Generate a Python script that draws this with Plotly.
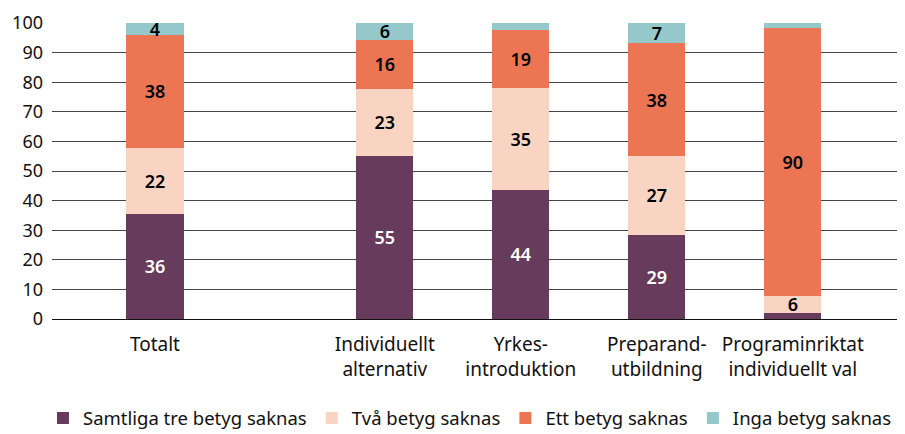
import plotly.graph_objects as go

categories = ["Totalt", "Individuellt<br>alternativ", "Yrkes-<br>introduktion",
              "Preparand-<br>utbildning", "Programinriktat<br>individuellt val"]
series_names = ["Samtliga tre betyg saknas", "Två betyg saknas", "Ett betyg saknas", "Inga betyg saknas"]
samtliga = [35.5, 55.1, 43.7, 28.4, 2.1]
tva = [22.4, 22.6, 34.3, 26.7, 5.7]
ett = [38.0, 16.6, 19.6, 38.0, 90.5]
inga = [4.1, 5.7, 2.4, 6.9, 1.7]
# labels shown on the chart (small segments unlabeled)
samtliga_lbl = ["36", "55", "44", "29", ""]
tva_lbl = ["22", "23", "35", "27", "6"]
ett_lbl = ["38", "16", "19", "38", "90"]
inga_lbl = ["4", "6", "", "7", ""]

colors = ["#673B5B", "#F9D4C2", "#EC7653", "#94C8CB"]
text_colors = ["white", "black", "black", "black"]
xpos = [0, 1.69, 2.69, 3.69, 4.69]

FONT = "Noto Sans"
fig = go.Figure()
for name, vals, lbl, c, tc in zip(series_names, [samtliga, tva, ett, inga],
                                  [samtliga_lbl, tva_lbl, ett_lbl, inga_lbl], colors, text_colors):
    fig.add_trace(go.Bar(
        x=xpos, y=vals, name=name, marker=dict(color=c, line=dict(width=0)),
        width=0.42, text=lbl, textposition="inside", insidetextanchor="middle",
        textangle=0, constraintext="none",
        textfont=dict(family=FONT, size=18, color=tc, weight=600),
        hoverinfo="skip",
    ))

# page body has an 8px margin, so the figure is sized/offset to compensate
fig.update_layout(
    barmode="stack",
    width=897, height=426,
    margin=dict(l=44, r=0, t=15, b=115, autoexpand=False),
    plot_bgcolor="white", paper_bgcolor="white",
    font=dict(family=FONT, size=18, color="#111"),
    uniformtext=dict(minsize=8, mode="show"),
    showlegend=True,
    legend=dict(orientation="h", x=0.49, xanchor="center", y=-0.272, yanchor="top",
                font=dict(family=FONT, size=18.5), traceorder="normal",
                itemsizing="constant", itemwidth=30),
    xaxis=dict(range=[-0.757, 5.515], tickvals=xpos, ticktext=categories,
               showgrid=False, zeroline=False, showline=False, ticks="",
               automargin=False, ticklabelstandoff=12, tickfont=dict(family=FONT, size=19)),
    yaxis=dict(range=[0, 100], dtick=10, showgrid=True, gridcolor="#444", gridwidth=1,
               zeroline=True, zerolinecolor="#111", zerolinewidth=1,
               automargin=False, ticks="", ticklabelstandoff=8,
               tickfont=dict(family=FONT, size=18)),
)
fig.write_html("out.html")
